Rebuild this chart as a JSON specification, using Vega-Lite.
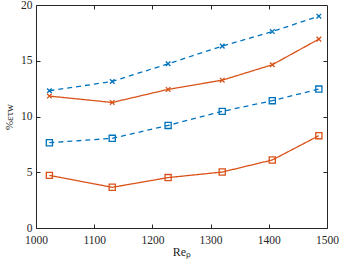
{
  "$schema": "https://vega.github.io/schema/vega-lite/v6.json",
  "width": 291,
  "height": 223,
  "autosize": {"type": "none"},
  "padding": {"left": 36, "top": 5, "right": 14, "bottom": 35},
  "background": "white",
  "config": {
    "view": {"stroke": "#262626", "strokeWidth": 1},
    "axis": {
      "labelFont": "Liberation Serif",
      "titleFont": "Liberation Serif",
      "labelFontSize": 11.5,
      "titleFontSize": 12,
      "labelColor": "#262626",
      "titleColor": "#262626",
      "tickColor": "#262626",
      "tickSize": 4,
      "offset": -4,
      "domain": false,
      "grid": false,
      "titleFontWeight": "normal"
    }
  },
  "data": {
    "values": [
      {"Re": 1023, "v": 12.31, "s": "a"},
      {"Re": 1131, "v": 13.14, "s": "a"},
      {"Re": 1227, "v": 14.73, "s": "a"},
      {"Re": 1320, "v": 16.31, "s": "a"},
      {"Re": 1406, "v": 17.62, "s": "a"},
      {"Re": 1486, "v": 19.0, "s": "a"},
      {"Re": 1023, "v": 11.83, "s": "b"},
      {"Re": 1131, "v": 11.26, "s": "b"},
      {"Re": 1227, "v": 12.43, "s": "b"},
      {"Re": 1320, "v": 13.26, "s": "b"},
      {"Re": 1406, "v": 14.64, "s": "b"},
      {"Re": 1486, "v": 16.94, "s": "b"},
      {"Re": 1023, "v": 7.65, "s": "c"},
      {"Re": 1131, "v": 8.04, "s": "c"},
      {"Re": 1227, "v": 9.2, "s": "c"},
      {"Re": 1320, "v": 10.46, "s": "c"},
      {"Re": 1406, "v": 11.42, "s": "c"},
      {"Re": 1486, "v": 12.46, "s": "c"},
      {"Re": 1023, "v": 4.72, "s": "d"},
      {"Re": 1131, "v": 3.65, "s": "d"},
      {"Re": 1227, "v": 4.52, "s": "d"},
      {"Re": 1320, "v": 5.02, "s": "d"},
      {"Re": 1406, "v": 6.1, "s": "d"},
      {"Re": 1486, "v": 8.28, "s": "d"}
    ]
  },
  "layer": [
    {
      "mark": {"type": "line", "strokeWidth": 1.3},
      "encoding": {
        "x": {"field": "Re", "type": "quantitative", "scale": {"domain": [1000, 1500], "nice": false, "zero": false},
              "axis": {"values": [1000, 1100, 1200, 1300, 1400, 1500], "format": "d", "title": "Reₚ", "labelPadding": 6, "titlePadding": 1, "labelFlush": false}},
        "y": {"field": "v", "type": "quantitative", "scale": {"domain": [0, 20], "nice": false},
              "axis": {"values": [0, 5, 10, 15, 20], "title": "%ετw", "titleFontSize": 11, "labelPadding": 4, "titlePadding": 6, "labelFlush": false}},
        "color": {"field": "s", "type": "nominal", "legend": null,
                  "scale": {"domain": ["a", "b", "c", "d"], "range": ["#0072BD", "#D95319", "#0072BD", "#D95319"]}},
        "strokeDash": {"field": "s", "type": "nominal", "legend": null,
                  "scale": {"domain": ["a", "b", "c", "d"], "range": [[5, 4], [1, 0], [5, 4], [1, 0]]}}
      }
    },
    {
      "mark": {"type": "point", "filled": false, "strokeWidth": 1.3, "size": 38, "opacity": 1},
      "encoding": {
        "x": {"field": "Re", "type": "quantitative", "scale": {"domain": [1000, 1500], "nice": false, "zero": false},
              "axis": {"orient": "top", "values": [1100, 1200, 1300, 1400], "labels": false, "title": null}},
        "y": {"field": "v", "type": "quantitative", "scale": {"domain": [0, 20], "nice": false},
              "axis": {"orient": "right", "values": [5, 10, 15], "labels": false, "title": null}},
        "color": {"field": "s", "type": "nominal", "legend": null},
        "shape": {"field": "s", "type": "nominal", "legend": null,
                  "scale": {"domain": ["a", "b", "c", "d"], "range": ["M-0.75,-0.75L0.75,0.75M0.75,-0.75L-0.75,0.75", "M-0.75,-0.75L0.75,0.75M0.75,-0.75L-0.75,0.75", "square", "square"]}}
      }
    }
  ],
  "resolve": {"axis": {"x": "independent", "y": "independent"}}
}
